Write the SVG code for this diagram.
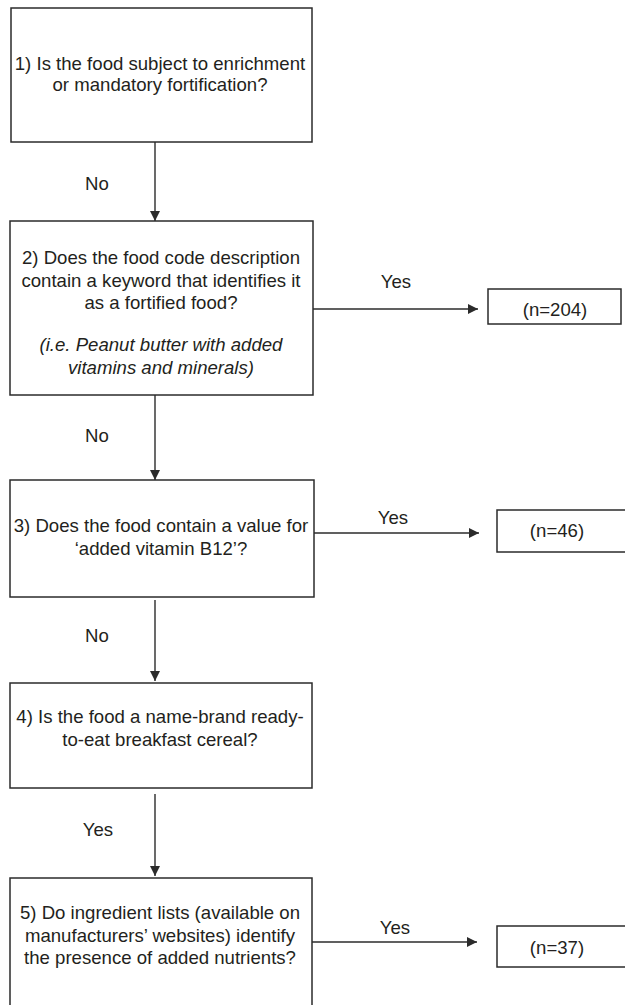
<svg xmlns="http://www.w3.org/2000/svg" width="625" height="1005" viewBox="0 0 625 1005">
<style>
.box{fill:#fff;stroke:#2b2b2b;stroke-width:1.5}
.t{font-family:"Liberation Sans",Arial,sans-serif;font-size:18.6px;fill:#231f20;text-anchor:middle}
.it{font-style:italic}
.c{stroke:#2b2b2b;stroke-width:1.4;fill:none;marker-end:url(#ah)}
</style>
<defs>
<marker id="ah" markerUnits="userSpaceOnUse" markerWidth="11" markerHeight="11" refX="10" refY="5" orient="auto">
<path d="M0,0 L10,5 L0,10 z" fill="#2b2b2b"/>
</marker>
</defs>
<rect width="625" height="1005" fill="#fff"/>
<g id="connectors">
<line class="c" x1="155" y1="142" x2="155" y2="221"/>
<line class="c" x1="313" y1="309" x2="478" y2="309"/>
<line class="c" x1="155" y1="395" x2="155" y2="480"/>
<line class="c" x1="314" y1="533" x2="479" y2="533"/>
<line class="c" x1="155" y1="600" x2="155" y2="681"/>
<line class="c" x1="155" y1="794" x2="155" y2="876"/>
<line class="c" x1="312" y1="942" x2="477" y2="942"/>
<text class="t" x="97" y="190">No</text>
<text class="t" x="396" y="288">Yes</text>
<text class="t" x="97" y="442">No</text>
<text class="t" x="393" y="524">Yes</text>
<text class="t" x="97" y="642">No</text>
<text class="t" x="98" y="836">Yes</text>
<text class="t" x="395" y="934">Yes</text>
</g>
<g id="node1">
<rect class="box" x="11" y="8" width="301" height="134"/>
<text class="t" x="160" y="70">1) Is the food subject to enrichment</text>
<text class="t" x="160" y="91">or mandatory fortification?</text>
</g>
<g id="node2">
<rect class="box" x="10" y="221" width="303" height="174"/>
<text class="t" x="161" y="264">2) Does the food code description</text>
<text class="t" x="161" y="287">contain a keyword that identifies it</text>
<text class="t" x="161" y="309">as a fortified food?</text>
<text class="t it" x="161" y="351">(i.e. Peanut butter with added</text>
<text class="t it" x="161" y="374">vitamins and minerals)</text>
</g>
<g id="out204">
<rect class="box" x="488" y="289" width="133" height="35"/>
<text class="t" x="555" y="316">(n=204)</text>
</g>
<g id="node3">
<rect class="box" x="10" y="480" width="304" height="117"/>
<text class="t" x="161" y="532">3) Does the food contain a value for</text>
<text class="t" x="161" y="555">‘added vitamin B12’?</text>
</g>
<g id="out46">
<rect class="box" x="497" y="510" width="140" height="42"/>
<text class="t" x="557" y="537">(n=46)</text>
</g>
<g id="node4">
<rect class="box" x="10" y="683" width="302" height="105"/>
<text class="t" x="160" y="723">4) Is the food a name-brand ready-</text>
<text class="t" x="160" y="746">to-eat breakfast cereal?</text>
</g>
<g id="node5">
<rect class="box" x="10" y="878" width="302" height="140"/>
<text class="t" x="160" y="919">5) Do ingredient lists (available on</text>
<text class="t" x="160" y="942">manufacturers’ websites) identify</text>
<text class="t" x="160" y="964">the presence of added nutrients?</text>
</g>
<g id="out37">
<rect class="box" x="497" y="926" width="140" height="41"/>
<text class="t" x="557" y="954">(n=37)</text>
</g>
</svg>
